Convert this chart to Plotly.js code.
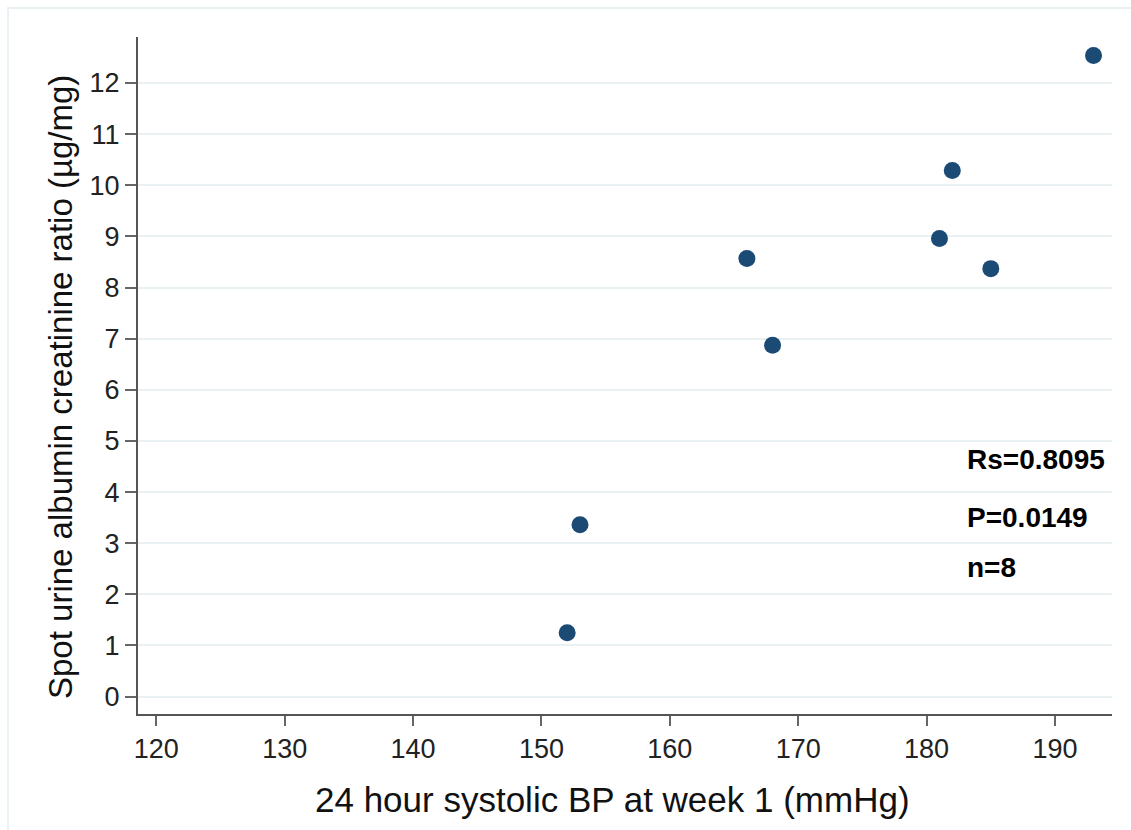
<!DOCTYPE html>
<html>
<head>
<meta charset="utf-8">
<script src="https://cdn.plot.ly/plotly-3.0.1.min.js"></script>
<style>
html,body{margin:0;padding:0;background:#fff;overflow:hidden;}
#wrap{position:relative;width:1131px;height:830px;overflow:hidden;}
#chart{width:1131px;height:830px;}
#frame{position:absolute;left:7px;top:7px;width:1200px;height:900px;border:2px solid #eaf1f4;box-sizing:border-box;pointer-events:none;}
</style>
</head>
<body>
<div id="wrap"><div id="chart"></div><div id="frame"></div></div>
<script>
const systolicBP = [152, 153, 166, 168, 181, 182, 185, 193];
const albuminCreatinine = [1.25, 3.36, 8.57, 6.87, 8.96, 10.29, 8.37, 12.54];
const statLabels = ["Rs=0.8095", "P=0.0149", "n=8"];
const statY = [4.64, 3.5, 2.52];
const statX = 183.0;
const xTicks = [120, 130, 140, 150, 160, 170, 180, 190];
const yTicks = [0,1,2,3,4,5,6,7,8,9,10,11,12];
const xTitle = '24 hour systolic BP at week 1 (mmHg)';
const yTitle = 'Spot urine albumin creatinine ratio (µg/mg)';

const FONT = 'Liberation Sans, Arial, sans-serif';

const trace = {
  x: systolicBP, y: albuminCreatinine, type: 'scatter', mode: 'markers',
  marker: {size: 17, color: '#1b4a75'}, showlegend: false, hoverinfo: 'x+y'
};

const annotations = statLabels.map((t, i) => ({
  x: statX, y: statY[i], xref: 'x', yref: 'y', text: '<b>' + t + '</b>',
  showarrow: false, xanchor: 'left', yanchor: 'middle',
  font: {size: 28, color: '#000000', family: FONT}
}));
annotations.push({
  x: 0.4867, y: -0.127, xref: 'paper', yref: 'paper', text: xTitle,
  showarrow: false, xanchor: 'center', yanchor: 'middle',
  font: {size: 35, color: '#111111', family: FONT}
});
annotations.push({
  x: -0.0801, y: 0.483, xref: 'paper', yref: 'paper', text: yTitle, textangle: -90,
  showarrow: false, xanchor: 'center', yanchor: 'middle',
  font: {size: 33, color: '#111111', family: FONT}
});

const layout = {
  width: 1131, height: 830,
  margin: {l: 138, r: 19, t: 37, b: 116},
  paper_bgcolor: '#ffffff', plot_bgcolor: '#ffffff',
  font: {family: FONT, color: '#1a1a1a'},
  xaxis: {
    range: [118.57, 194.44], tickvals: xTicks, ticktext: xTicks.map(String),
    showgrid: false, zeroline: false, showline: true, linecolor: '#555555', linewidth: 2,
    ticks: 'outside', ticklen: 10, tickwidth: 2, tickcolor: '#666666',
    tickfont: {size: 27, color: '#222222'},
    automargin: false
  },
  yaxis: {
    range: [-0.34, 12.9], tickvals: yTicks, ticktext: yTicks.map(String),
    showgrid: true, gridcolor: '#eaf1f3', gridwidth: 2,
    zeroline: false, showline: true, linecolor: '#555555', linewidth: 2,
    ticks: 'outside', ticklen: 11, tickwidth: 2, tickcolor: '#666666',
    tickfont: {size: 27, color: '#222222'},
    automargin: false
  },
  annotations: annotations
};

Plotly.newPlot('chart', [trace], layout, {displayModeBar: false, staticPlot: true});
</script>
</body>
</html>
